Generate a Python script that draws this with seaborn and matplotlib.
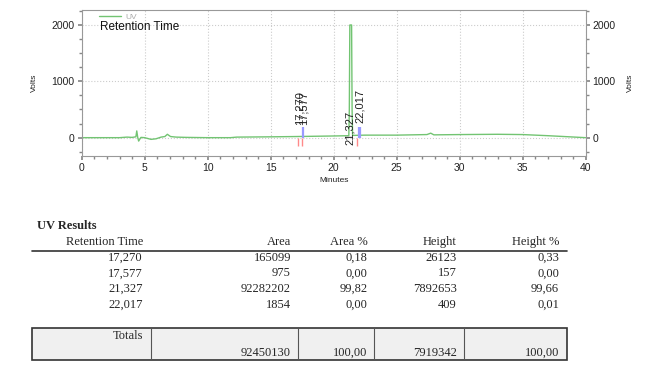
import numpy as np
import pandas as pd
import seaborn as sns
import matplotlib.pyplot as plt
from matplotlib.patches import Rectangle
from matplotlib.ticker import MultipleLocator

# chromatogram trace (minutes, volts)
minutes = [0, 3.0, 3.6, 4.0, 4.3, 4.37, 4.45, 4.52, 4.7, 5.0, 5.5, 5.9, 6.3, 6.6, 6.8, 7.05,
           7.5, 8.3, 10, 11.8, 12.3, 15, 17, 20, 21.2, 21.24, 21.28, 21.42, 21.46, 21.5,
           22.5, 25, 27.4, 27.7, 27.95, 30, 33, 35, 37, 40]
volts = [0, 0, 10, 5, 15, 120, 0, -60, 5, 0, -30, -20, 10, 20, 60, 20,
         10, 5, 0, 0, 10, 15, 20, 30, 35, 500, 2000, 2000, 500, 40,
         45, 45, 55, 80, 50, 55, 60, 55, 35, 0]

# integration marks
peak_start_end = [17.2, 17.5, 21.85]
peak_bars = [17.58, 22.0, 22.12]

# results table
ret_time = ["17,270", "17,577", "21,327", "22,017"]
area = ["165099", "975", "92282202", "1854"]
area_pct = ["0,18", "0,00", "99,82", "0,00"]
height = ["26123", "157", "7892653", "409"]
height_pct = ["0,33", "0,00", "99,66", "0,01"]
totals = ["92450130", "100,00", "7919342", "100,00"]
headers = ["Retention Time", "Area", "Area %", "Height", "Height %"]

W, H = 654, 369
sns.set_theme(style="white")
plt.rcParams['font.family'] = ['Liberation Sans', 'DejaVu Sans']

fig = plt.figure(figsize=(W / 100, H / 100), dpi=100)


def fx(px):
    return px / W


def fy(py):
    return 1 - py / H


ax = fig.add_axes([fx(81.7), fy(155.7), (585.7 - 81.7) / W, (155.7 - 10) / H])

df = pd.DataFrame({"Minutes": minutes, "Volts": volts})
sns.lineplot(data=df, x="Minutes", y="Volts", color="#72c472", lw=1, ax=ax, label="UV")

ax.vlines(peak_start_end, -150, 0, color="#ff8a8a", lw=1)
ax.vlines(peak_bars, 0, 190, color="#9a9aff", lw=1.6)

lab = dict(rotation=90, ha="center", va="bottom", fontsize=8, color="#222")
ax.text(17.27, 225, ret_time[0], **lab)
ax.text(17.577, 225, ret_time[1], **lab)
ax.text(21.25, -135, ret_time[2], **lab)
ax.text(22.1, 255, ret_time[3], **lab)

ax.set_xlim(0, 40)
ax.set_ylim(-320, 2266)
ax.set_xticks(range(0, 41, 5))
ax.set_yticks([0, 1000, 2000])
ax.xaxis.set_minor_locator(MultipleLocator(1))
ax.yaxis.set_minor_locator(MultipleLocator(250))
ax.grid(True, which="major", color="#cccccc", ls=":", lw=0.8)
ax.tick_params(which="both", direction="out", colors="#888", labelcolor="#222", labelsize=7.5,
               left=True, bottom=True, right=True, labelright=True)
ax.tick_params(which="major", length=3, pad=2)
ax.tick_params(which="minor", length=2)
for s in ax.spines.values():
    s.set_color("#999")
    s.set_linewidth(0.8)
ax.set_xlabel("Minutes", fontsize=6, labelpad=3, color="#222")
ax.set_ylabel("Volts", fontsize=6, labelpad=10, color="#222")
fig.text(fx(630), fy(82.5), "Volts", rotation=90, fontsize=6, ha="center", va="center", color="#222")

leg = ax.legend(loc="upper left", bbox_to_anchor=(0.028, 1.0), frameon=False, fontsize=6,
                handlelength=2.6, handletextpad=0.6, borderaxespad=0)
for t in leg.get_texts():
    t.set_color("#aaa")
ax.text(0.036, 0.88, "Retention Time", transform=ax.transAxes, fontsize=8.5, color="#111", va="center")

# results table
serif = ['Liberation Serif', 'DejaVu Serif']
fs = 9
fig.text(fx(37), fy(226), "UV Results", family=serif, fontweight="bold", fontsize=fs, va="center")
col_right = [143, 291, 367.7, 456.7, 559]
for x, h in zip(col_right, headers):
    fig.text(fx(x), fy(242), h, family=serif, fontsize=fs, ha="right", va="center")
fig.add_artist(plt.Line2D([fx(32), fx(567)], [fy(250.7), fy(250.7)], color="#333", lw=1.2))

rows_y = [258, 273.5, 289, 304.5]
for i, y in enumerate(rows_y):
    vals = [ret_time[i], area[i], area_pct[i], height[i], height_pct[i]]
    for x, v in zip(col_right, vals):
        fig.text(fx(x), fy(y), v, family=serif, fontsize=fs, ha="right", va="center")

fig.add_artist(Rectangle((fx(32), fy(359.5)), fx(567 - 32), (359.5 - 328) / H,
                         facecolor="#f0f0f0", edgecolor="#333", lw=1.2))
for x in [150.6, 298, 374, 464]:
    fig.add_artist(plt.Line2D([fx(x), fx(x)], [fy(328), fy(359.5)], color="#555", lw=0.8))
fig.text(fx(143), fy(336), "Totals", family=serif, fontsize=fs, ha="right", va="center")
for x, v in zip(col_right[1:], totals):
    fig.text(fx(x), fy(352.7), v, family=serif, fontsize=fs, ha="right", va="center")

fig.savefig("out.png", dpi=100)
plt.close("all")
